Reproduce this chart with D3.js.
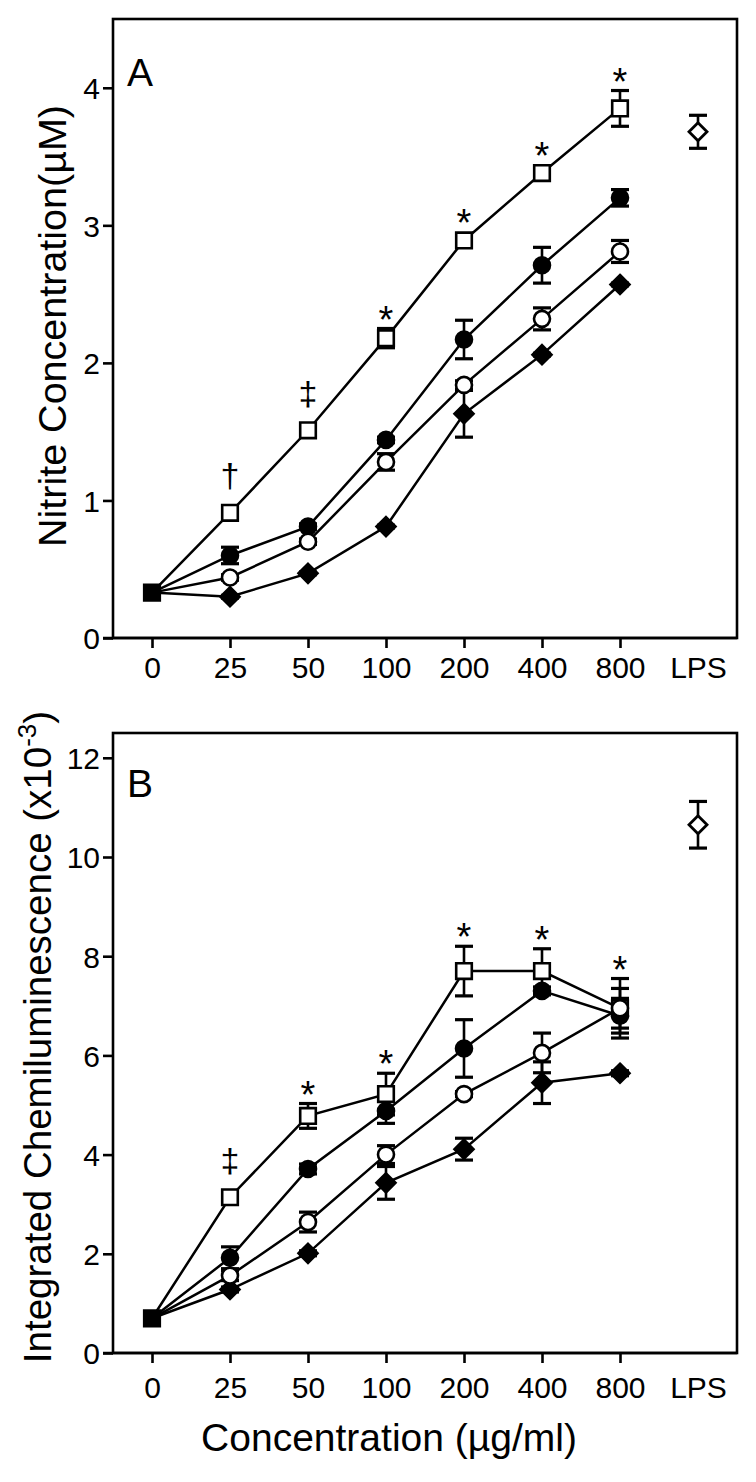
<!DOCTYPE html>
<html>
<head>
<meta charset="utf-8">
<script src="https://cdn.jsdelivr.net/npm/d3@7"></script>
<style>
  html, body { margin: 0; padding: 0; background: #fff; }
  svg { display: block; }
  text { font-family: "Liberation Sans", Arial, Helvetica, sans-serif; fill: #000; }
</style>
</head>
<body>
<svg id="chart" width="756" height="1482"></svg>
<script>
// ---------- data ----------
const categories = ["0", "25", "50", "100", "200", "400", "800", "LPS"];
const doseCats = ["0", "25", "50", "100", "200", "400", "800"];

// Panel A: nitrite concentration (µM)
const nitriteSquare     = [0.33, 0.91, 1.51, 2.18, 2.89, 3.38, 3.85];
const nitriteSquareErr  = [0, 0.02, 0.02, 0.07, 0.04, 0.04, 0.13];
const nitriteFilledCircle    = [0.33, 0.60, 0.81, 1.44, 2.17, 2.71, 3.20];
const nitriteFilledCircleErr = [0, 0.06, 0.02, 0.02, 0.14, 0.13, 0.06];
const nitriteOpenCircle      = [0.33, 0.44, 0.70, 1.28, 1.84, 2.32, 2.81];
const nitriteOpenCircleErr   = [0, 0.02, 0.02, 0.06, 0.03, 0.08, 0.08];
const nitriteDiamond    = [0.33, 0.30, 0.47, 0.81, 1.63, 2.06, 2.57];
const nitriteDiamondErr = [0, 0.01, 0.01, 0.01, 0.17, 0.01, 0.01];
const nitriteLPS = 3.68, nitriteLPSErr = 0.12;
const nitriteMarks = ["", "†", "‡", "*", "*", "*", "*"];
const nitriteTicks = [0, 1, 2, 3, 4];

// Panel B: integrated chemiluminescence (x10^-3)
const chemSquare     = [0.70, 3.14, 4.78, 5.22, 7.70, 7.70, 6.95];
const chemSquareErr  = [0, 0.05, 0.25, 0.42, 0.50, 0.45, 0.60];
const chemFilledCircle    = [0.70, 1.92, 3.71, 4.88, 6.14, 7.30, 6.80];
const chemFilledCircleErr = [0, 0.22, 0.10, 0.25, 0.58, 0.08, 0.35];
const chemOpenCircle      = [0.70, 1.56, 2.64, 4.00, 5.22, 6.05, 6.95];
const chemOpenCircleErr   = [0, 0.10, 0.20, 0.18, 0.05, 0.40, 0.40];
const chemDiamond    = [0.70, 1.28, 2.01, 3.43, 4.11, 5.45, 5.64];
const chemDiamondErr = [0, 0.05, 0.05, 0.33, 0.22, 0.42, 0.05];
const chemLPS = 10.65, chemLPSErr = 0.47;
const chemMarks = ["", "‡", "*", "*", "*", "*", "*"];
const chemTicks = [0, 2, 4, 6, 8, 10, 12];

// ---------- drawing ----------
const svg = d3.select("#chart");
const x = d3.scalePoint().domain(categories).range([113, 737]).padding(0.5);

function markerPath(shape, cx, cy) {
  const p = d3.path();
  if (shape === "square") {
    const h = 7.8; p.rect(cx - h, cy - h, 2 * h, 2 * h);
  } else if (shape === "circle") {
    p.arc(cx, cy, 8, 0, 2 * Math.PI); p.closePath();
  } else if (shape === "diamond") {
    const h = 9.5;
    p.moveTo(cx, cy - h); p.lineTo(cx + h, cy); p.lineTo(cx, cy + h); p.lineTo(cx - h, cy); p.closePath();
  } else if (shape === "odiamond") {
    const h = 9;
    p.moveTo(cx, cy - h); p.lineTo(cx + h, cy); p.lineTo(cx, cy + h); p.lineTo(cx - h, cy); p.closePath();
  }
  return p.toString();
}

function panel(opts) {
  const { top, bottom, yMax, ticks, series, lps, lpsErr, marks, letter, letterY, yTitle, titleX, titleY, titleSize, labelBase } = opts;
  const y = d3.scaleLinear().domain([0, yMax]).range([bottom, top]);
  const g = svg.append("g");

  // frame
  g.append("rect").attr("x", 113).attr("y", top).attr("width", 737 - 113).attr("height", bottom - top)
    .attr("fill", "none").attr("stroke", "#000").attr("stroke-width", 2.6);

  // y axis
  const ya = g.append("g").attr("transform", "translate(113,0)")
    .call(d3.axisLeft(y).tickValues(ticks).tickSize(10).tickPadding(3).tickFormat(d3.format("d")));
  ya.select(".domain").remove();
  ya.selectAll(".tick line").attr("stroke", "#000").attr("stroke-width", 2.6);
  ya.selectAll(".tick text").attr("font-size", 30).attr("font-family", null).attr("dy", "0.36em");

  // x axis
  const xa = g.append("g").attr("transform", `translate(0,${bottom})`)
    .call(d3.axisBottom(x).tickSize(10).tickPadding(0));
  xa.select(".domain").remove();
  xa.selectAll(".tick line").attr("stroke", "#000").attr("stroke-width", 2.6)
    .attr("display", d => doseCats.includes(d) ? null : "none");
  xa.selectAll(".tick text").attr("font-size", 30).attr("font-family", null)
    .attr("y", labelBase).attr("dy", 0);
  g.append("line").attr("x1", 103).attr("x2", 737).attr("y1", bottom).attr("y2", bottom)
    .attr("stroke", "#000").attr("stroke-width", 2.6);

  // lines
  const line = d3.line().x((d, i) => x(doseCats[i])).y(d => y(d));
  series.forEach(s => {
    g.append("path").attr("d", line(s.values)).attr("fill", "none")
      .attr("stroke", "#000").attr("stroke-width", 2.5);
  });

  // error bars
  function errBar(cx, v, e) {
    if (!e) return;
    const y1 = y(v + e), y2 = y(v - e);
    g.append("line").attr("x1", cx).attr("x2", cx).attr("y1", y1).attr("y2", y2)
      .attr("stroke", "#000").attr("stroke-width", 2.6);
    [y1, y2].forEach(yy => g.append("line").attr("x1", cx - 9).attr("x2", cx + 9)
      .attr("y1", yy).attr("y2", yy).attr("stroke", "#000").attr("stroke-width", 3.2));
  }
  series.forEach(s => s.values.forEach((v, i) => errBar(x(doseCats[i]), v, s.err[i])));
  errBar(x("LPS"), lps, lpsErr);

  // markers (at dose 0 all series coincide; the reference shows one solid square there)
  series.forEach((s, si) => {
    s.values.forEach((v, i) => {
      if (i === 0 && si !== 0) return;
      const filled = s.filled || i === 0;
      g.append("path").attr("d", markerPath(s.shape, x(doseCats[i]), y(v)))
        .attr("fill", filled ? "#000" : "#fff").attr("stroke", "#000").attr("stroke-width", 2.6);
    });
  });
  g.append("path").attr("d", markerPath("odiamond", x("LPS"), y(lps)))
    .attr("fill", "#fff").attr("stroke", "#000").attr("stroke-width", 2.8);

  // significance marks (above open-square series)
  const sq = series[0];
  marks.forEach((m, i) => {
    if (!m) return;
    const cx = x(doseCats[i]);
    const topY = Math.min(y(sq.values[i] + sq.err[i]), y(sq.values[i]) - 8.5);
    if (m === "*") {
      g.append("text").attr("x", cx).attr("y", topY + 4).attr("text-anchor", "middle")
        .attr("font-size", 38).text(m);
    } else {
      g.append("text").attr("x", cx).attr("y", topY - 17).attr("text-anchor", "middle")
        .attr("font-size", 34).text(m);
    }
  });

  // panel letter
  g.append("text").attr("x", 127).attr("y", letterY).attr("font-size", 39).text(letter);

  // y title
  const t = g.append("text").attr("text-anchor", "middle").attr("font-size", titleSize)
    .attr("transform", `translate(${titleX},${titleY}) rotate(-90)`);
  yTitle(t);
  return y;
}

panel({
  top: 19, bottom: 638, yMax: 4.5, ticks: nitriteTicks,
  series: [
    { values: nitriteSquare, err: nitriteSquareErr, shape: "square", filled: false },
    { values: nitriteFilledCircle, err: nitriteFilledCircleErr, shape: "circle", filled: true },
    { values: nitriteDiamond, err: nitriteDiamondErr, shape: "diamond", filled: true },
    { values: nitriteOpenCircle, err: nitriteOpenCircleErr, shape: "circle", filled: false }
  ],
  lps: nitriteLPS, lpsErr: nitriteLPSErr, marks: nitriteMarks,
  letter: "A", letterY: 86, titleX: 66, titleY: 326, titleSize: 39.5, labelBase: 40,
  yTitle: t => t.text("Nitrite Concentration(\u00B5M)")
});

panel({
  top: 733, bottom: 1353, yMax: 12.5, ticks: chemTicks,
  series: [
    { values: chemSquare, err: chemSquareErr, shape: "square", filled: false },
    { values: chemFilledCircle, err: chemFilledCircleErr, shape: "circle", filled: true },
    { values: chemDiamond, err: chemDiamondErr, shape: "diamond", filled: true },
    { values: chemOpenCircle, err: chemOpenCircleErr, shape: "circle", filled: false }
  ],
  lps: chemLPS, lpsErr: chemLPSErr, marks: chemMarks,
  letter: "B", letterY: 797, titleX: 51, titleY: 1037, titleSize: 38.5, labelBase: 45,
  yTitle: t => {
    t.append("tspan").text("Integrated Chemiluminescence (x10");
    t.append("tspan").attr("font-size", 26).attr("dy", -15).text("-3");
    t.append("tspan").attr("dy", 15).text(")");
  }
});

svg.append("text").attr("x", 389).attr("y", 1451).attr("text-anchor", "middle")
  .attr("font-size", 39).text("Concentration (\u00B5g/ml)");
</script>
</body>
</html>
